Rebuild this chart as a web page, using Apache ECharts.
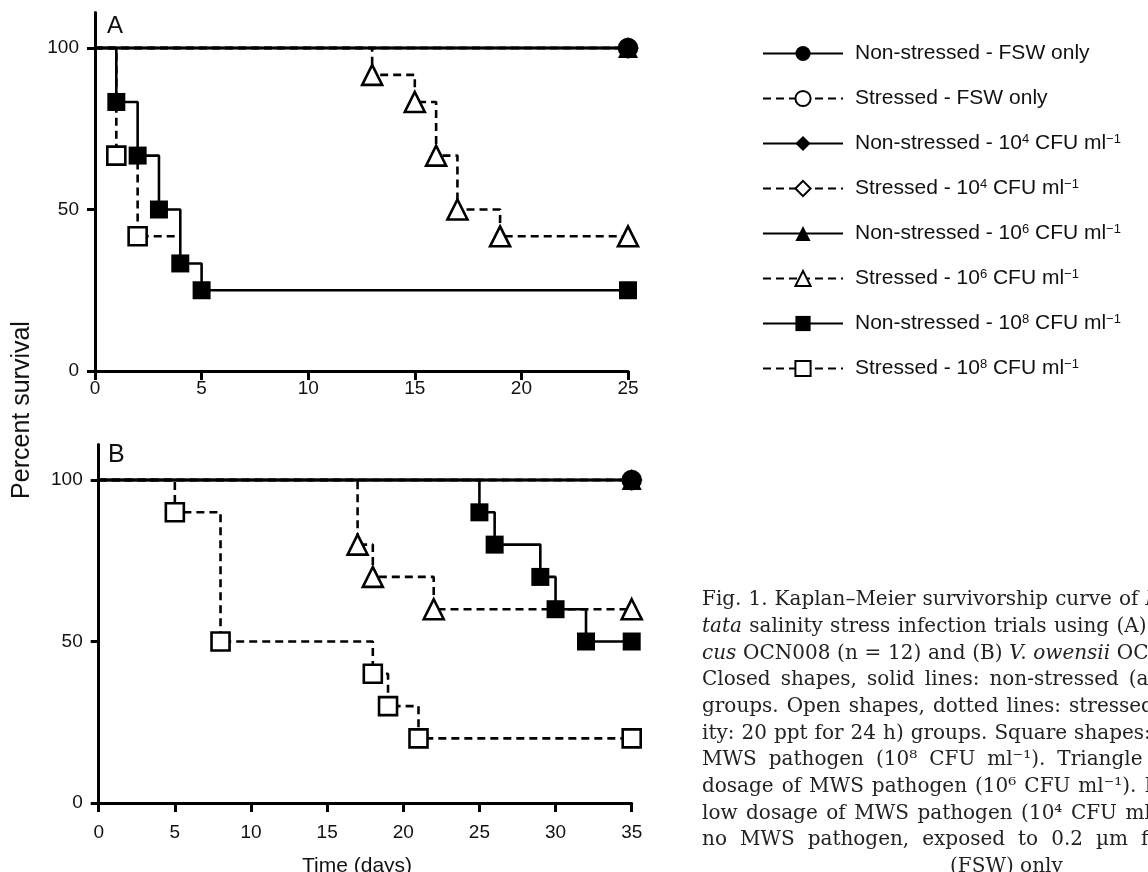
<!DOCTYPE html>
<html>
<head>
<meta charset="utf-8">
<script src="https://cdn.jsdelivr.net/npm/echarts@6/dist/echarts.min.js"></script>
<style>
html, body { margin: 0; padding: 0; background: #fff; }
#main { width: 1148px; height: 872px; }
</style>
</head>
<body>
<div id="main"></div>
<script>
//legend groups, in legend order
var groupNames = ['Non-stressed - FSW only', 'Stressed - FSW only',
	'Non-stressed - 10^4 CFU ml^-1', 'Stressed - 10^4 CFU ml^-1',
	'Non-stressed - 10^6 CFU ml^-1', 'Stressed - 10^6 CFU ml^-1',
	'Non-stressed - 10^8 CFU ml^-1', 'Stressed - 10^8 CFU ml^-1'];
var groupSymbols = ['circle', 'circle', 'diamond', 'diamond', 'triangle', 'triangle', 'rect', 'rect'];

//panel A: V. coralliilyticus OCN008 (n = 12)
var daysA_flat = [0, 25];
var survA_flat = [100, 100];
var daysA_ns8 = [0, 1, 2, 3, 4, 5, 25];
var survA_ns8 = [100, 83.3, 66.7, 50, 33.3, 25, 25];
var daysA_s8 = [0, 1, 2, 4];
var survA_s8 = [100, 66.7, 41.7, 41.7];
var daysA_s6 = [0, 13, 15, 16, 17, 19, 25];
var survA_s6 = [100, 91.7, 83.3, 66.7, 50, 41.7, 41.7];

//panel B: V. owensii OCN002 (n = 10)
var daysB_flat = [0, 35];
var survB_flat = [100, 100];
var daysB_ns8 = [0, 25, 26, 29, 30, 32, 35];
var survB_ns8 = [100, 90, 80, 70, 60, 50, 50];
var daysB_s8 = [0, 5, 8, 18, 19, 21, 35];
var survB_s8 = [100, 90, 50, 40, 30, 20, 20];
var daysB_s6 = [0, 17, 18, 22, 35];
var survB_s6 = [100, 80, 70, 60, 60];

var yTicks = [0, 50, 100];

var captionLines = [
	'Fig. 1. Kaplan–Meier survivorship curve of *Montipora *capi-',
	'*tata salinity stress infection trials using (A) *Vibrio *coralliilyti-',
	'*cus OCN008 (n = 12) and (B) *V. *owensii OCN002 (n = 10).',
	'Closed shapes, solid lines: non-stressed (ambient salinity)',
	'groups. Open shapes, dotted lines: stressed (low salin-',
	'ity: 20 ppt for 24 h) groups. Square shapes: high dosage of',
	'MWS pathogen (10⁸ CFU ml⁻¹). Triangle shapes: medium',
	'dosage of MWS pathogen (10⁶ CFU ml⁻¹). Diamond shapes:',
	'low dosage of MWS pathogen (10⁴ CFU ml⁻¹). Circle shapes:',
	'no MWS pathogen, exposed to 0.2 µm filtered seawater'
];
var captionLast = '(FSW) only';
//word spacing per caption line (justified text)
var captionGaps = [7, 7.3, 6.7, 10, 8, 7, 12, 8, 8.5, 13];

var SANS = 'Liberation Sans';
var SERIF = 'DejaVu Serif';

//km curve points, first point (and optionally last) without marker
function kmData(days, surv, hideLast) {
	return days.map(function(d, i) {
		var item = { value: [d, surv[i]] };
		if (i === 0 || (hideLast && i === days.length - 1)) {
			item.symbol = 'none';
		}
		return item;
	});
}

function kmSeries(group, panel, days, surv, hideLast) {
	var stressed = group % 2 === 1;
	return {
		name: groupNames[group],
		type: 'line',
		step: 'end',
		xAxisIndex: panel,
		yAxisIndex: panel,
		data: kmData(days, surv, hideLast),
		symbol: groupSymbols[group],
		symbolSize: groupSymbols[group] === 'triangle' ? 20 : 18,
		showAllSymbol: true,
		animation: false,
		lineStyle: { color: '#000', width: 2.6, type: stressed ? [8, 5] : 'solid' },
		itemStyle: stressed ? { color: '#fff', borderColor: '#000', borderWidth: 2.6 } : { color: '#000', borderColor: '#000', borderWidth: 0 },
		emphasis: { disabled: true }
	};
}

function xAxisOf(panel, max, margin) {
	return {
		type: 'value', gridIndex: panel, min: 0, max: max, interval: 5,
		axisLine: { lineStyle: { color: '#000', width: 3 } },
		axisTick: { length: 9, lineStyle: { color: '#000', width: 3 } },
		axisLabel: { fontFamily: SANS, fontSize: 19, color: '#111', margin: margin },
		splitLine: { show: false }
	};
}

function yAxisOf(panel) {
	return {
		type: 'value', gridIndex: panel, min: 0, max: 111,
		axisLine: { show: true, lineStyle: { color: '#000', width: 3 } },
		axisTick: { show: true, length: 8, customValues: yTicks, lineStyle: { color: '#000', width: 3 } },
		axisLabel: { fontFamily: SANS, fontSize: 19, color: '#111', margin: 16, customValues: yTicks },
		splitLine: { show: false }
	};
}

function captionText(line, gap) {
	var rich = {
		i: { fontFamily: SERIF, fontSize: 20, fontStyle: 'italic', color: '#222' },
		g: { fontFamily: SERIF, fontSize: 20, width: gap }
	};
	var parts = line.split(' ').map(function(w) {
		return w.charAt(0) === '*' ? '{i|' + w.slice(1) + '}' : w;
	});
	return { text: parts.join('{g| }'), rich: rich };
}

var chart = echarts.init(document.getElementById('main'));

var series = [
	//panel A
	kmSeries(7, 0, daysA_s8, survA_s8, true),
	kmSeries(6, 0, daysA_ns8, survA_ns8),
	kmSeries(5, 0, daysA_s6, survA_s6),
	kmSeries(4, 0, daysA_flat, survA_flat),
	kmSeries(3, 0, daysA_flat, survA_flat),
	kmSeries(2, 0, daysA_flat, survA_flat),
	kmSeries(1, 0, daysA_flat, survA_flat),
	kmSeries(0, 0, daysA_flat, survA_flat),
	//panel B
	kmSeries(7, 1, daysB_s8, survB_s8),
	kmSeries(6, 1, daysB_ns8, survB_ns8),
	kmSeries(5, 1, daysB_s6, survB_s6),
	kmSeries(4, 1, daysB_flat, survB_flat),
	kmSeries(3, 1, daysB_flat, survB_flat),
	kmSeries(2, 1, daysB_flat, survB_flat),
	kmSeries(1, 1, daysB_flat, survB_flat),
	kmSeries(0, 1, daysB_flat, survB_flat)
];

var graphics = [
	{ type: 'text', left: 107, top: 14, style: { text: 'A', fontFamily: SANS, fontSize: 24, fill: '#111' } },
	{ type: 'text', left: 108, top: 443, style: { text: 'B', fontFamily: SANS, fontSize: 25, fill: '#111' } },
	{ type: 'text', x: 22, y: 410, rotation: Math.PI / 2,
		style: { text: 'Percent survival', fontFamily: SANS, fontSize: 25, fill: '#111', align: 'center', verticalAlign: 'middle' } },
	{ type: 'text', x: 302, y: 866,
		style: { text: 'Time (days)', fontFamily: SANS, fontSize: 21, fill: '#111', align: 'left', verticalAlign: 'middle' } }
];

captionLines.forEach(function(line, k) {
	var t = captionText(line, captionGaps[k]);
	graphics.push({
		type: 'text', x: 702, y: 600 + k * 26.67,
		style: { text: t.text, rich: t.rich, fontFamily: SERIF, fontSize: 20, fill: '#222', align: 'left', verticalAlign: 'middle' }
	});
});
graphics.push({
	type: 'text', x: 950, y: 600 + 10 * 26.67,
	style: { text: captionLast, fontFamily: SERIF, fontSize: 20, fill: '#222', align: 'left', verticalAlign: 'middle' }
});

chart.setOption({
	animation: false,
	backgroundColor: '#fff',
	grid: [
		{ left: 95, top: 12.5, width: 533, height: 358.5 },
		{ left: 98.7, top: 444.5, width: 533, height: 358.5 }
	],
	xAxis: [xAxisOf(0, 25, 8), xAxisOf(1, 35, 20)],
	yAxis: [yAxisOf(0), yAxisOf(1)],
	legend: {
		orient: 'vertical',
		left: 757,
		top: 38,
		itemWidth: 80,
		itemHeight: 19,
		itemGap: 24,
		selectedMode: false,
		data: groupNames,
		formatter: function(name) {
			return name.replace(/\^(-?\d)/g, function(m, p) {
				return '{sup|' + p.replace('-', '−') + '}';
			});
		},
		textStyle: {
			fontFamily: SANS, fontSize: 21, color: '#111', padding: [0, 0, 0, 7],
			rich: { sup: { fontFamily: SANS, fontSize: 13, color: '#111', verticalAlign: 'top' } }
		}
	},
	graphic: graphics,
	series: series
});
</script>
</body>
</html>
